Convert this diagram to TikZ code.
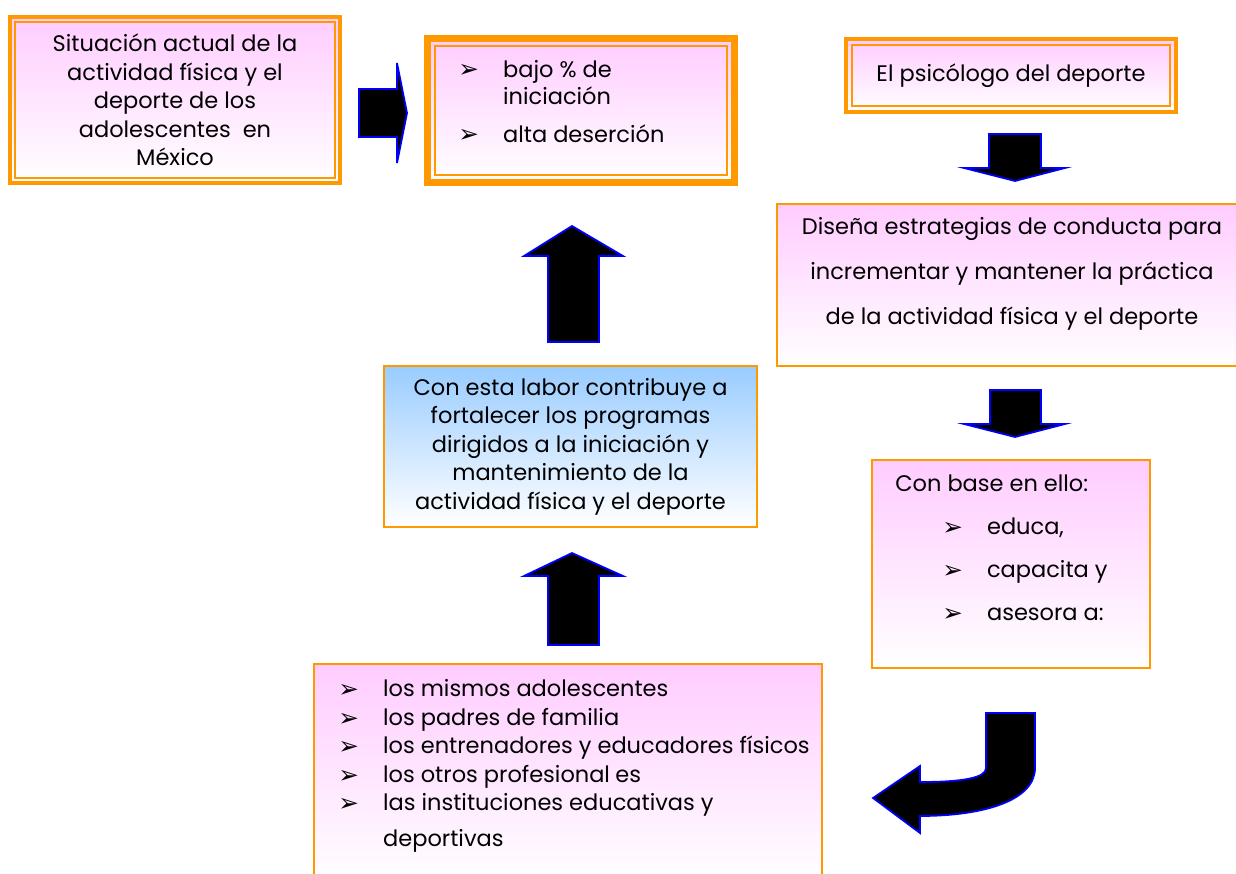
\documentclass[tikz,border=0pt]{standalone}
\usepackage{fontspec}
\setmainfont{Poppins}
\newfontfamily\bulletfont{DejaVu Sans}
\definecolor{boxorange}{HTML}{FF9900}
\definecolor{boxpink}{HTML}{FFCCFF}
\definecolor{boxblue}{HTML}{99CCFF}
\definecolor{arrowblue}{HTML}{0000FF}
\newcommand{\itm}[1]{\makebox[25.5pt][l]{\raisebox{-0.5pt}{\bulletfont\fontsize{14}{14}\selectfont ➢}}#1}
\newcommand{\ind}{\makebox[25.5pt]{}}
\tikzset{
  box/.style={rectangle,draw=boxorange,line width=0.9pt,outer sep=0pt,inner sep=0pt,
    top color=boxpink,bottom color=white},
  framebox/.style={box,line width=2.2pt},
  heavybox/.style={box,line width=4pt},
  innerline/.style={draw=boxorange,line width=0.8pt},
  txt/.style={inner sep=0pt,font=\fontsize{12.8}{16.2}\selectfont},
  blockarrow/.style={fill=black,draw=arrowblue,line width=1pt,line join=miter}
}
\begin{document}
\begin{tikzpicture}[x=0.02cm,y=-0.02cm]
  \useasboundingbox (0,0) rectangle (1236,874);
  \clip (0,0) rectangle (1236,874);
  % cajas
  \node[framebox,minimum width=6.6cm,minimum height=3.32cm,txt,align=center] (sit) at (175,100)
    {Situación actual de la\\actividad física y el\\deporte de los\\adolescentes~ en\\México};
  \draw[innerline] ([xshift=0.1cm,yshift=-0.1cm]sit.north west) rectangle ([xshift=-0.1cm,yshift=0.1cm]sit.south east);
  \node[heavybox,minimum width=6.14cm,minimum height=2.88cm] (baj) at (581,110.5) {};
  \draw[innerline] ([xshift=0.15cm,yshift=-0.15cm]baj.north west) rectangle ([xshift=-0.15cm,yshift=0.15cm]baj.south east);
  \node[txt,anchor=west,align=left,font=\fontsize{12.8}{15.5}\selectfont] (bajT) at (458,101.5)
    {\itm{bajo \% de}\\\ind iniciación\\[6pt]\itm{alta deserción}};
  \node[framebox,minimum width=6.6cm,minimum height=1.46cm,txt] (psi) at (1011,75.5) {El psicólogo del deporte};
  \draw[innerline] ([xshift=0.12cm,yshift=-0.12cm]psi.north west) rectangle ([xshift=-0.12cm,yshift=0.12cm]psi.south east);
  \node[box,minimum width=9.36cm,minimum height=3.24cm] (dis) at (1011,285) {};
  \node[txt,align=center,font=\fontsize{12.8}{25.6}\selectfont] (disT) at (1012,274)
    {Diseña estrategias de conducta para\\incrementar y mantener la práctica\\de la actividad física y el deporte};
  \node[box,minimum width=5.56cm,minimum height=4.16cm] (bas) at (1011,564) {};
  \node[txt,anchor=west,align=left,font=\fontsize{12.8}{24.5}\selectfont] (basT) at (895,548)
    {Con base en ello:\\\makebox[26.7pt]{}\itm{educa,}\\\makebox[26.7pt]{}\itm{capacita y}\\\makebox[26.7pt]{}\itm{asesora a:}};
  \node[box,top color=boxblue,minimum width=7.46cm,minimum height=3.22cm,txt,align=center] (con) at (570.5,446.5)
    {Con esta labor contribuye a\\fortalecer los programas\\dirigidos a la iniciación y\\mantenimiento de la\\actividad física y el deporte};
  \node[box,minimum width=10.16cm,minimum height=4.4cm] (lis) at (568,774) {};
  \node[txt,anchor=west,align=left] (lisT) at (338,766)
    {\itm{los mismos adolescentes}\\\itm{los padres de familia}\\\itm{los entrenadores y educadores físicos}\\
     \itm{los otros profesional\kern3pt es}\\\itm{las instituciones educativas y}\\[4pt]\ind deportivas};
  % flechas
  \draw[blockarrow] (359,89) -- (397,89) -- (397,63) -- (407,113) -- (397,163) -- (397,137) -- (359,137) -- cycle;
  \draw[blockarrow] (989,134) -- (1041,134) -- (1041,168) -- (1065,168) -- (1015,181) -- (964,168) -- (989,168) -- cycle;
  \draw[blockarrow] (990,390) -- (1041,390) -- (1041,424) -- (1065,424) -- (1015,437) -- (964,424) -- (990,424) -- cycle;
  \draw[blockarrow] (986,713) -- (1035,713) -- (1035,768) .. controls (1035,800) and (985,816) .. (920,816)
    -- (920,833) -- (873,798) -- (920,766) -- (920,782) .. controls (962,782) and (986,778) .. (986,768) -- cycle;
  \draw[blockarrow] (548,645) -- (548,576) -- (524,576) -- (572,553) -- (623,576) -- (599,576) -- (599,645) -- cycle;
  \draw[blockarrow] (548,342) -- (548,256) -- (524,256) -- (572,226) -- (623,256) -- (599,256) -- (599,342) -- cycle;
\end{tikzpicture}
\end{document}
